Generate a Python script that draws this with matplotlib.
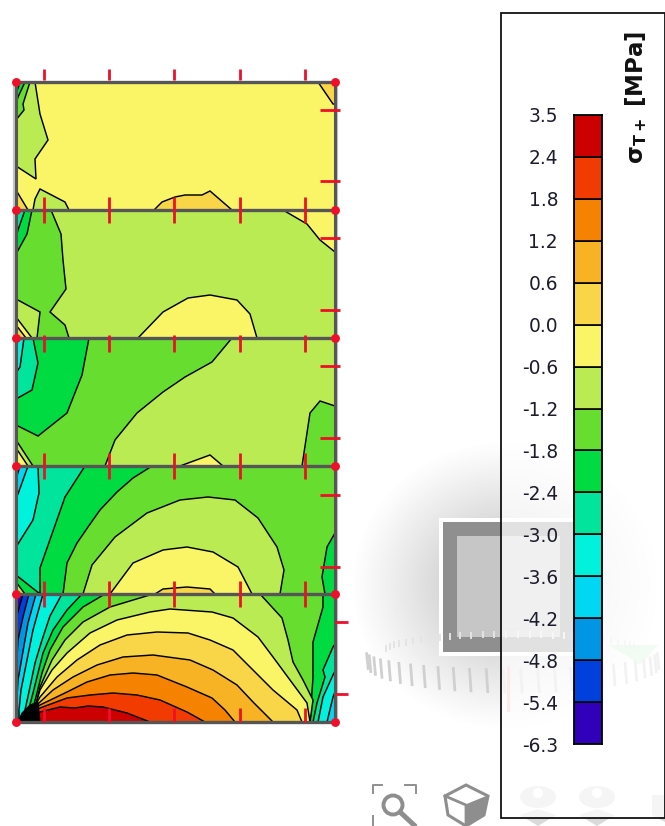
import numpy as np
import matplotlib
matplotlib.use("Agg")
import matplotlib.pyplot as plt
from matplotlib.colors import ListedColormap, BoundaryNorm
from matplotlib.patches import Polygon, Rectangle, Circle, Ellipse

# ---------------- legend scale ----------------
levels = [-6.3, -5.4, -4.8, -4.2, -3.6, -3.0, -2.4, -1.8, -1.2, -0.6, 0.0, 0.6, 1.2, 1.8, 2.4, 3.5]
level_labels = ["-6.3", "-5.4", "-4.8", "-4.2", "-3.6", "-3.0", "-2.4", "-1.8", "-1.2",
                "-0.6", "0.0", "0.6", "1.2", "1.8", "2.4", "3.5"]
band_colors = ["#3000BB", "#0040DD", "#0096E6", "#00D7F2", "#00F2DC", "#00E59B", "#00DB42", "#66DD2F",
               "#BAEB52", "#F9F566", "#F8D648", "#F7B324", "#F58200", "#F23B00", "#CC0000"]
legend_title = r"$\mathbf{\sigma_{T+}}$ [MPa]"

# ---------------- wall layout (along the wall, down the height) ----------------
wall_width = 319
panel_tops = [0, 128, 256, 384, 512, 640]
top_ticks = [28, 93, 158, 224, 289]
side_ticks_inner = [28, 99, 156, 228, 284, 356, 413, 485]
side_ticks_outer = [540, 612]

# ---------------- isolines, each closes a region warmer than its level ----------------
# panel 1
p1_a = [(19, 0), (24, 32), (32, 58), (19, 77), (20, 97), (0, 84), (0, 0)]
p1_b = [(14, 0), (7, 22), (8, 28), (0, 38), (0, 0)]
p1_c = [(9, 0), (2, 15), (0, 22), (0, 0)]
p1_d = [(4, 0), (0, 12), (0, 0)]
p1_e = [(0, 108), (12, 128), (0, 128)]
p1_f = [(17, 128), (19, 117), (24, 107), (49, 120), (53, 128)]
p1_g = [(138, 128), (146, 120), (159, 115), (169, 113), (186, 113), (194, 109), (216, 128)]
p1_h = [(302, 0), (317, 22), (319, 22), (319, 0)]

# panel 2
p2_a = [(267, 128), (291, 142), (304, 158), (319, 170), (319, 128)]
p2_b = [(35, 128), (45, 152), (47, 178), (50, 207), (34, 230), (49, 243), (53, 256),
        (21, 256), (24, 230), (0, 217), (0, 128)]
p2_c = [(16, 128), (11, 152), (0, 172), (0, 128)]
p2_d = [(9, 128), (2, 148), (0, 155), (0, 128)]
p2_e = [(2, 128), (0, 135), (0, 128)]
p2_f = [(0, 235), (16, 256), (0, 256)]
p2_g = [(0, 243), (10, 256), (0, 256)]
p2_h = [(122, 256), (147, 230), (172, 216), (194, 213), (221, 218), (234, 232), (241, 256)]

# panel 3
p3_a = [(216, 256), (196, 280), (169, 295), (147, 310), (121, 331), (99, 358), (89, 384), (319, 384), (319, 256)]
p3_b = [(286, 384), (294, 331), (304, 319), (319, 324), (319, 384)]
p3_c = [(164, 384), (194, 373), (207, 384)]
p3_d = [(73, 256), (66, 293), (51, 331), (22, 354), (0, 343), (0, 256)]
p3_e = [(17, 256), (22, 281), (16, 308), (0, 317), (0, 256)]
p3_f = [(8, 256), (4, 285), (0, 291), (0, 256)]
p3_g = [(0, 358), (17, 384), (0, 384)]
p3_h = [(0, 366), (12, 384), (0, 384)]

# panel 4
p4_a = [(136, 384), (117, 396), (101, 410), (84, 428), (72, 445), (61, 461), (51, 481), (47, 512),
        (0, 512), (0, 384)]
p4_b = [(69, 384), (49, 415), (24, 486), (24, 512), (0, 493), (0, 384)]
p4_c = [(22, 384), (23, 411), (17, 438), (0, 465), (0, 384)]
p4_d = [(12, 384), (2, 412), (0, 415), (0, 384)]
p4_e = [(4, 384), (0, 397), (0, 384)]
p4_f = [(0, 500), (9, 512), (0, 512)]
p4_g = [(67, 512), (76, 483), (99, 455), (131, 431), (164, 418), (192, 415), (219, 418), (242, 436),
        (261, 465), (268, 488), (264, 512)]
p4_h = [(94, 512), (117, 481), (147, 468), (171, 465), (197, 470), (222, 485), (236, 512)]
p4_i = [(139, 512), (147, 507), (171, 505), (194, 507), (199, 512)]
p4_j = [(319, 451), (311, 465), (306, 495), (309, 512), (319, 512)]

# panel 5, cold fan at the left
p5_a = [(7, 512), (1, 533), (0, 535), (0, 640), (319, 640), (319, 512)]
p5_b = [(13, 512), (7, 535), (2, 558), (1, 575), (0, 578), (0, 640), (319, 640), (319, 512)]
p5_c = [(20, 512), (12, 541), (6, 575), (2, 598), (1, 615), (1, 640), (319, 640), (319, 512)]
p5_d = [(27, 512), (17, 548), (11, 578), (5, 608), (3, 628), (3, 640), (319, 640), (319, 512)]
p5_e = [(46, 512), (34, 534), (26, 558), (19, 581), (14, 605), (9, 628), (9, 640), (319, 640), (319, 512)]
p5_f = [(66, 512), (51, 528), (37, 548), (27, 571), (21, 595), (17, 611), (12, 630), (12, 640),
        (319, 640), (319, 512)]
p5_g = [(89, 512), (67, 525), (47, 545), (34, 568), (26, 591), (21, 611), (16, 630), (16, 640),
        (319, 640), (319, 512)]
# cold fan at the right
p5_h = [(307, 512), (307, 525), (297, 560), (297, 595), (294, 640), (319, 640), (319, 512)]
p5_i = [(319, 562), (317, 565), (307, 588), (309, 595), (301, 621), (297, 640), (319, 640)]
p5_j = [(319, 589), (317, 593), (307, 615), (302, 640), (319, 640)]
p5_k = [(319, 610), (317, 615), (311, 640), (319, 640)]
# warm arcs
p5_l = [(20, 640), (20, 622), (24, 605), (36, 578), (49, 558), (67, 540), (94, 525), (137, 512), (244, 512),
        (266, 536), (272, 558), (277, 580), (287, 598), (297, 618), (294, 640)]
p5_m = [(20, 640), (20, 622), (24, 608), (36, 588), (51, 571), (74, 551), (101, 538), (134, 530), (154, 527),
        (196, 530), (217, 536), (242, 555), (257, 575), (274, 598), (291, 621), (294, 640)]
p5_n = [(20, 640), (20, 622), (24, 615), (41, 595), (61, 578), (84, 563), (111, 553), (141, 550), (172, 551),
        (194, 558), (217, 568), (237, 588), (257, 608), (281, 628), (286, 640)]
p5_o = [(20, 640), (20, 624), (24, 620), (37, 608), (57, 595), (81, 583), (107, 575), (137, 573), (174, 578),
        (197, 588), (221, 603), (237, 620), (257, 640)]
p5_p = [(20, 640), (20, 626), (24, 623), (51, 610), (71, 600), (94, 593), (117, 591), (141, 593), (171, 605),
        (196, 616), (209, 628), (219, 640)]
p5_q = [(20, 640), (20, 628), (24, 626), (51, 616), (74, 613), (97, 611), (121, 613), (144, 618), (171, 630),
        (189, 640)]
p5_r = [(20, 640), (20, 632), (24, 630), (44, 625), (59, 626), (72, 624), (87, 625), (111, 631), (134, 640)]
p5_blob = [(2, 640), (6, 631), (14, 623), (22, 620), (24, 640)]

# (base band of the panel, then regions in painting order, by lower bound of the band)
panels = [
    (-0.6, [(-1.2, p1_a), (-1.8, p1_b), (-2.4, p1_c), (-3.0, p1_d), (0.0, p1_e), (-1.2, p1_f),
            (0.0, p1_g), (0.0, p1_h)]),
    (-1.2, [(-0.6, p2_a), (-1.8, p2_b), (-2.4, p2_c), (-3.0, p2_d), (-3.6, p2_e), (-0.6, p2_f),
            (0.0, p2_g), (-0.6, p2_h)]),
    (-1.8, [(-1.2, p3_a), (-1.8, p3_b), (-0.6, p3_c), (-2.4, p3_d), (-3.0, p3_e), (-3.6, p3_f),
            (-1.2, p3_g), (-0.6, p3_h)]),
    (-1.8, [(-2.4, p4_a), (-3.0, p4_b), (-3.6, p4_c), (-4.2, p4_d), (-4.8, p4_e), (-1.2, p4_f),
            (-1.2, p4_g), (-0.6, p4_h), (0.0, p4_i), (-2.4, p4_j)]),
    (-6.3, [(-5.4, p5_a), (-4.8, p5_b), (-4.2, p5_c), (-3.6, p5_d), (-3.0, p5_e), (-2.4, p5_f),
            (-1.8, p5_g), (-2.4, p5_h), (-3.0, p5_i), (-3.6, p5_j), (-4.2, p5_k), (-1.2, p5_l),
            (-0.6, p5_m), (0.0, p5_n), (0.6, p5_o), (1.2, p5_p), (1.8, p5_q), (2.4, p5_r)]),
]

cmap = ListedColormap(band_colors)
norm = BoundaryNorm(levels, cmap.N)

RED = "#EE0F2A"
FRAME = "#565656"
ICON = "#8E8E8E"
ICON_LIGHT = "#DADADA"

fig = plt.figure(figsize=(6.65, 8.26), dpi=100)
W, H = 665.0, 826.0


def px_axes(left, top, right, bottom, z):
    a = fig.add_axes([left / W, (H - bottom) / H, (right - left) / W, (bottom - top) / H])
    a.set_zorder(z)
    return a


# ---------------- screen background: viewcube, glow, icons, legend box ----------------
bg = px_axes(0, 0, W, H, 0)
bg.set_xlim(0, W)
bg.set_ylim(H, 0)
bg.axis("off")

gx, gy = np.meshgrid(np.linspace(340, 665, 220), np.linspace(430, 770, 220))
glow = np.clip(1 - np.hypot((gx - 505) / 155, (gy - 585) / 145), 0, 1) ** 1.1
rgba = np.zeros(gx.shape + (4,))
rgba[..., :3] = 0.45
rgba[..., 3] = glow * 0.5
bg.imshow(rgba, extent=(340, 665, 770, 430), aspect="auto", zorder=1, interpolation="bilinear")
bg.set_xlim(0, W)
bg.set_ylim(H, 0)

bg.add_patch(Rectangle((439, 518), 143, 138, fc="white", ec="none", zorder=2))
bg.add_patch(Rectangle((443, 522), 135, 130, fc="#8F8F8F", ec="none", zorder=3))
bg.add_patch(Rectangle((457, 536), 103, 101, fc="#C6C6C6", ec="none", zorder=4))

# compass ring around the viewcube
for t in np.linspace(0.03, 0.97, 26):
    ang = np.pi * t
    cx, cy = 512 - 146 * np.cos(ang), 652 + 18 * np.sin(ang)
    bg.plot([cx, cx + 1.5], [cy, cy + 14 + 8 * np.sin(ang)], color="#D0D0D0", lw=2.0, zorder=5)
for t in np.linspace(0.08, 0.92, 30):
    ang = np.pi * t
    cx, cy = 512 - 130 * np.cos(ang), 650 - 18 * np.sin(ang)
    bg.plot([cx, cx], [cy, cy + 5], color="#E4E4E4", lw=1.4, zorder=5)
bg.add_patch(Polygon([(608, 645), (658, 645), (640, 665), (625, 655)], fc="#BFF0BF", ec="none", alpha=0.7, zorder=5))
bg.plot([508, 508], [667, 710], color="#F6B6BC", lw=2.4, zorder=6)

# toolbar icons
bg.add_patch(Circle((393, 805), 9.5, fc="none", ec=ICON, lw=2.8, zorder=6))
bg.plot([400, 414], [812, 825], color=ICON, lw=3.6, zorder=6)
bg.plot([373, 373, 382], [793, 785, 785], color=ICON, lw=1.4, zorder=6)
bg.plot([405, 416, 416], [785, 785, 793], color=ICON, lw=1.4, zorder=6)
bg.plot([373, 373], [816, 826], color=ICON, lw=1.4, zorder=6)
cube = [(466, 785), (488, 796), (484, 815), (466, 826), (448, 815), (445, 796)]
bg.add_patch(Polygon(cube, fc="white", ec=ICON, lw=2.2, zorder=6))
bg.add_patch(Polygon([(466, 805), (488, 796), (484, 815), (466, 826)], fc=ICON, ec=ICON, lw=1, zorder=7))
bg.plot([445, 466, 466], [796, 805, 826], color=ICON, lw=2.0, zorder=7)
for ex in (538, 597):
    bg.add_patch(Ellipse((ex, 797), 36, 22, fc=ICON_LIGHT, ec="none", zorder=6))
    bg.add_patch(Circle((ex, 793), 5, fc="white", ec="none", zorder=7))
    bg.add_patch(Polygon([(ex - 18, 815), (ex, 809), (ex + 18, 815), (ex, 826)], fc=ICON_LIGHT, ec="none", zorder=6))
bg.add_patch(Polygon([(652, 795), (665, 795), (665, 822), (652, 815)], fc=ICON_LIGHT, ec="none", zorder=6))

# legend box, see-through white
bg.add_patch(Rectangle((501, 13), 163.5, 805, fc="white", ec="none", alpha=0.74, zorder=8))
bg.add_patch(Rectangle((501, 13), 163.5, 805, fc="none", ec="#111111", lw=1.3, zorder=9))

# ---------------- wall panels ----------------
ax = px_axes(16, 82, 16 + wall_width, 722, 2)
ax.set_xlim(0, wall_width)
ax.set_ylim(640, 0)
ax.axis("off")

for i, (base, regions) in enumerate(panels):
    top, bottom = panel_tops[i], panel_tops[i + 1]
    clip = Rectangle((0, top), wall_width, bottom - top, transform=ax.transData)
    ax.add_patch(Rectangle((0, top), wall_width, bottom - top, fc=cmap(norm(base)), ec="none", zorder=1))
    for j, (val, pts) in enumerate(regions):
        patch = Polygon(pts, closed=True, fc=cmap(norm(val)), ec="black", lw=1.05, zorder=2 + j * 0.01)
        ax.add_patch(patch)
        patch.set_clip_path(clip)

ax.add_patch(Polygon(p5_blob, closed=True, fc="black", ec="black", lw=0.8, zorder=3))

# outer halo, then frame lines
ax.vlines([-2, wall_width + 2], 0, 640, color="#C4C4C4", lw=1.6, zorder=4, clip_on=False)
ax.vlines([0, wall_width], 0, 640, color=FRAME, lw=2.2, zorder=5, clip_on=False)
ax.hlines(panel_tops, 0, wall_width, color=FRAME, lw=2.4, zorder=5, clip_on=False)

# red element marks
ax.vlines(top_ticks, -13, -2, color=RED, lw=2.0, zorder=6, clip_on=False)
for yy, up, down in [(128, 13, 13), (256, 3, 14), (384, 13, 13), (512, 13, 13), (640, 14, 0)]:
    ax.vlines(top_ticks, yy - up, yy + down, color=RED, lw=2.0, zorder=6, clip_on=False)
ax.hlines(side_ticks_inner, 304, 324, color=RED, lw=2.0, zorder=6, clip_on=False)
ax.hlines(side_ticks_outer, 319, 332, color=RED, lw=2.0, zorder=6, clip_on=False)
for side in (0, wall_width):
    ax.plot([side] * len(panel_tops), panel_tops, "o", color=RED, ms=6.4, mew=0, zorder=7, clip_on=False)

# ---------------- legend colour bar ----------------
cax = px_axes(574, 115, 602, 744, 3)
band_index = np.arange(len(band_colors))
cax.bar(np.zeros_like(band_index), np.ones_like(band_index), width=1.0, bottom=band_index,
        color=band_colors, edgecolor="black", linewidth=1.2)
cax.set_xlim(-0.5, 0.5)
cax.set_ylim(0, len(band_colors))
cax.set_xticks([])
cax.set_yticks(np.arange(len(levels)))
cax.set_yticklabels(level_labels, fontsize=13.4, color="#1C1C2C")
cax.tick_params(axis="y", length=0, pad=11.5)
for s in cax.spines.values():
    s.set_linewidth(1.3)

fig.text(636 / W, 1 - 97 / H, legend_title, rotation=90, ha="center", va="center",
         fontsize=16.5, fontweight="bold", color="#111111", zorder=5)

fig.savefig("out.png", dpi=100)
